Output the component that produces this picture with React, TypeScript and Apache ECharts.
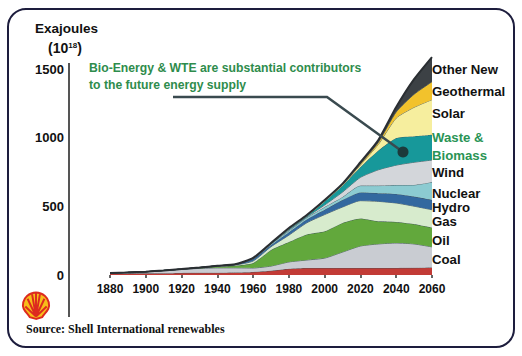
import React, { useEffect, useRef } from 'react';
import * as echarts from 'echarts';

// ---- data (EJ) ----
const years = [1880, 1890, 1900, 1910, 1920, 1930, 1940, 1950, 1960, 1970, 1980, 1990, 2000, 2010, 2020, 2030, 2040, 2050, 2060];
const tradBiomass = [10, 11, 12, 13, 15, 16, 16, 18, 22, 31, 45, 51, 51, 51, 51, 51, 51, 52, 55];
const coal = [5, 8, 12, 19, 26, 32, 36, 34, 29, 34, 50, 58, 72, 116, 160, 175, 182, 174, 150];
const oil = [0, 0, 0, 1, 2, 4, 10, 16, 36, 117, 145, 186, 195, 212, 200, 165, 153, 145, 140];
const gas = [0, 0, 0, 0, 0, 1, 3, 5, 15, 24, 50, 85, 122, 116, 130, 145, 138, 130, 130];
const hydro = [0, 0, 0, 0, 0, 1, 2, 4, 14, 12, 22, 25, 35, 51, 60, 60, 66, 70, 72];
const nuclear = [0, 0, 0, 0, 0, 0, 0, 0, 2, 7, 10, 13, 20, 22, 50, 55, 65, 85, 130];
const wind = [0, 0, 0, 0, 0, 0, 0, 0, 2, 2, 6, 5, 15, 36, 60, 115, 145, 165, 160];
const wasteBiomass = [0, 0, 0, 0, 0, 0, 0, 0, 2, 2, 6, 6, 26, 46, 75, 140, 197, 190, 185];
const solar = [0, 0, 0, 0, 0, 0, 0, 0, 1, 1, 3, 3, 4, 6, 15, 45, 146, 210, 255];
const geothermal = [0, 0, 0, 0, 0, 0, 0, 0, 0, 1, 2, 2, 3, 4, 8, 14, 44, 95, 130];
const otherNew = [0, 0, 0, 0, 0, 0, 0, 1, 1, 2, 3, 3, 3, 5, 12, 18, 36, 110, 180];

const layerNames = ['Traditional biomass', 'Coal', 'Oil', 'Gas', 'Hydro', 'Nuclear', 'Wind', 'Waste & Biomass', 'Solar', 'Geothermal', 'Other New'];
const layerValues = [tradBiomass, coal, oil, gas, hydro, nuclear, wind, wasteBiomass, solar, geothermal, otherNew];
const layerColors = ['#c23b36', '#c9ccd2', '#62a83c', '#d7ebcd', '#33689f', '#8ccbd1', '#d3d6da', '#17989a', '#f6ee9e', '#f2c22c', '#3c4145'];

const rightLabels = ['Other New', 'Geothermal', 'Solar', 'Waste &', 'Biomass', 'Wind', 'Nuclear', 'Hydro', 'Gas', 'Oil', 'Coal'];
const rightLabelY = [69, 91, 113, 137, 155, 172, 193, 207, 221, 240, 259];
const rightLabelColors = ['#111', '#111', '#111', '#2a9455', '#2a9455', '#111', '#111', '#111', '#111', '#111', '#111'];

const yTicks = { min: 0, max: 1500, interval: 500 };

const shellD =
  'M50 96 L28 90 C22 80 12 72 6 60 C0 46 4 26 18 14 C30 4 42 2 50 2 C58 2 70 4 82 14 C96 26 100 46 94 60 C88 72 78 80 72 90 Z ' +
  'M50 88 L12 52 M50 88 L20 24 M50 88 L36 8 M50 88 L50 4 M50 88 L64 8 M50 88 L80 24 M50 88 L88 52';
let shellRegistered = false;
function registerShell() {
  if (shellRegistered) return;
  echarts.graphic.registerShape('shellLogo', echarts.graphic.extendPath(shellD, {}) as any);
  shellRegistered = true;
}

const SANS = '"Liberation Sans", Arial, sans-serif';

export default function App() {
  const ref = useRef<HTMLDivElement>(null);
  useEffect(() => {
    registerShell();
    const chart = echarts.init(ref.current!, null, { renderer: 'svg' });

    const series = layerNames.map((name, i) => ({
      name,
      type: 'line',
      stack: 'total',
      smooth: 0.2,
      symbol: 'none',
      clip: false,
      data: layerValues[i],
      lineStyle: i === layerNames.length - 1 ? { width: 2, color: '#2a2e32' } : { width: 0.8, color: '#3d5157' },
      areaStyle: { color: layerColors[i], opacity: 1 },
      z: 2 + i,
    }));

    const txt = (text: string, x: number, y: number, size: number, color = '#111', align = 'left', weight = 'bold', family = SANS) => ({
      type: 'text',
      x,
      y,
      z: 100,
      style: {
        text,
        fill: color,
        font: `${weight} ${size}px ${family}`,
        align,
        textAlign: align,
        verticalAlign: 'middle',
        textVerticalAlign: 'middle',
      },
    });

    const graphics: any[] = [
      {
        type: 'rect',
        z: 100,
        shape: { x: 8, y: 9, width: 506, height: 338, r: 18 },
        style: { fill: 'none', stroke: '#1d1d3d', lineWidth: 2 },
      },
      {
        type: 'line',
        z: 100,
        shape: { x1: 69, y1: 63, x2: 69, y2: 317 },
        style: { stroke: '#555', lineWidth: 2 },
      },
      txt('Exajoules', 35, 28, 13.5),
      {
        type: 'text',
        x: 48,
        y: 48,
        z: 100,
        style: {
          text: '(10{s|18})',
          fill: '#111',
          font: `bold 14px ${SANS}`,
          verticalAlign: 'middle',
          textVerticalAlign: 'middle',
          rich: { s: { fontSize: 8, fontWeight: 'bold', fontFamily: SANS, verticalAlign: 'top', fill: '#111' } },
        },
      },
      txt('Bio-Energy & WTE are substantial contributors', 89, 68, 12.2, '#2e8c4c'),
      txt('to the future energy supply', 89, 85, 12.2, '#2e8c4c'),
      {
        type: 'polyline',
        z: 100,
        shape: { points: [[173, 97], [327, 97], [403, 152]] },
        style: { stroke: '#3a4a4f', lineWidth: 2.5, fill: 'none' },
      },
      {
        type: 'circle',
        z: 101,
        shape: { cx: 403, cy: 152, r: 5.5 },
        style: { fill: '#1c3a3b' },
      },
      ...rightLabels.map((t, i) => txt(t, 432, rightLabelY[i], 13.2, rightLabelColors[i])),
      {
        type: 'shellLogo',
        x: 22,
        y: 292,
        scaleX: 0.28,
        scaleY: 0.28,
        z: 100,
        style: { fill: '#f7bd1a', stroke: '#dd2a1f', lineWidth: 7 },
      },
      txt('Source: Shell International renewables', 26, 329, 12, '#111', 'left', 'bold', '"Liberation Serif", "Times New Roman", serif'),
    ];

    chart.setOption({
      animation: false,
      backgroundColor: '#ffffff',
      grid: { left: 110, top: 69, width: 322, height: 206, containLabel: false },
      xAxis: {
        type: 'category',
        data: years.map(String),
        boundaryGap: false,
        axisLine: { show: false },
        axisTick: { show: true, length: 3, interval: 1, alignWithLabel: true, lineStyle: { color: '#333', width: 1.5 } },
        axisLabel: { color: '#111', fontWeight: 'bold', fontSize: 12, fontFamily: SANS, margin: 8, interval: 1 },
        splitLine: { show: false },
      },
      yAxis: {
        type: 'value',
        min: yTicks.min,
        max: yTicks.max,
        interval: yTicks.interval,
        offset: 41,
        axisLine: { show: false },
        axisTick: { show: false },
        axisLabel: { color: '#111', fontWeight: 'bold', fontSize: 13, fontFamily: SANS, margin: 5, formatter: (v: number) => String(v) },
        splitLine: { show: false },
      },
      series,
      graphic: graphics,
    });

    return () => chart.dispose();
  }, []);
  return <div ref={ref} style={{ position: 'fixed', left: 0, top: 0, width: 522, height: 356, background: '#fff' }} />;
}
